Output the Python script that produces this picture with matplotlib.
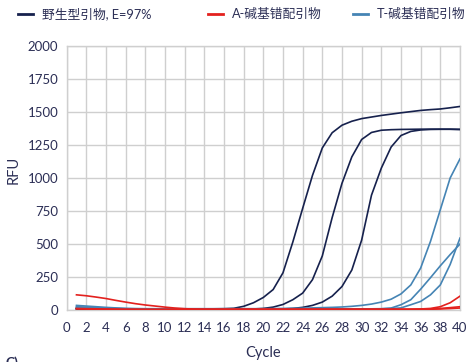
import matplotlib
matplotlib.use("Agg")
import matplotlib.pyplot as plt
from matplotlib.lines import Line2D

plt.rcParams['font.family'] = ['Lato', 'Noto Sans CJK SC', 'DejaVu Sans']

cycles = list(range(1, 41))

# Wild-type primer, three template dilutions
wt_1 = [14, 12, 11, 10, 9, 9, 8, 8, 8, 8, 8, 8, 8, 8, 9, 10,
        13, 28, 55, 95, 155, 282, 515, 770, 1020, 1228, 1343, 1400,
        1430, 1450, 1462, 1474, 1484, 1494, 1503, 1512, 1518, 1523, 1532, 1542]
wt_2 = [10, 9, 8, 7, 6, 6, 6, 5, 5, 5, 5, 5, 5, 5, 5, 5, 5, 6, 8, 12,
        22, 42, 78, 128, 230, 410, 700, 960, 1160, 1292, 1345, 1362,
        1366, 1368, 1369, 1370, 1370, 1370, 1370, 1368]
wt_3 = [8, 7, 6, 5, 5, 4, 4, 4, 4, 4, 4, 4, 4, 4, 4, 4, 4, 4, 4, 5, 6, 8,
        12, 20, 35, 60, 105, 178, 303, 530, 870, 1075, 1235, 1322,
        1353, 1364, 1368, 1369, 1369, 1368]

# A-mismatch primer
a_1 = [115, 108, 98, 87, 73, 60, 48, 38, 30, 22, 15, 10, 7, 6, 6, 6, 6, 6,
       6, 6, 6, 6, 6, 6, 6, 6, 6, 6, 6, 6, 6, 6, 6, 6, 6, 6, 8, 12, 18, 25]
a_2 = [12, 10, 9, 8, 7, 6, 6, 5, 5, 5, 5, 5, 5, 5, 5, 5, 5, 5, 5, 5,
       5, 5, 5, 5, 5, 5, 5, 5, 5, 5, 5, 5, 5, 5, 6, 8, 12, 25, 55, 105]
a_3 = [8, 7, 6, 5, 5, 4, 4, 4, 4, 4, 4, 4, 4, 4, 4, 4, 4, 4, 4, 4,
       4, 4, 4, 4, 4, 4, 4, 4, 4, 4, 4, 4, 4, 4, 4, 5, 6, 8, 11, 15]

# T-mismatch primer
t_1 = [35, 30, 25, 20, 16, 13, 11, 10, 10, 10, 10, 10, 10, 10, 10, 10,
       10, 10, 10, 10, 11, 12, 13, 14, 16, 18, 20, 23, 28, 35, 45, 60,
       82, 122, 190, 318, 520, 760, 1000, 1145]
t_2 = [25, 22, 18, 14, 11, 9, 8, 8, 8, 8, 8, 8, 8, 8, 8, 8, 8, 8, 8, 8,
       8, 8, 8, 8, 8, 8, 8, 8, 8, 9, 9, 10, 15, 40, 78, 158, 245, 335,
       420, 500]
t_3 = [20, 17, 14, 11, 9, 8, 7, 7, 7, 7, 7, 7, 7, 7, 7, 7, 7, 7, 7, 7,
       7, 7, 7, 7, 7, 7, 7, 7, 7, 7, 8, 9, 11, 16, 40, 65, 115, 190,
       345, 545]

legend_labels = ['野生型引物, E=97%', 'A-碱基错配引物', 'T-碱基错配引物']
x_ticks = list(range(0, 41, 2))
y_ticks = [0, 250, 500, 750, 1000, 1250, 1500, 1750, 2000]

navy = '#16214d'
red = '#e3211e'
blue = '#4584b4'
text_col = '#2b2e55'
grid_col = '#cfcfcf'

fig = plt.figure(figsize=(4.70, 3.62), dpi=100)
ax = fig.add_axes([0.1418, 0.1436, 0.8369, 0.7293])

for s in (wt_1, wt_2, wt_3):
    ax.plot(cycles, s, color=navy, lw=1.2, zorder=3)
for s in (t_1, t_2, t_3):
    ax.plot(cycles, s, color=blue, lw=1.2, zorder=4)
for s in (a_1, a_2, a_3):
    ax.plot(cycles, s, color=red, lw=1.2, zorder=5)

ax.set_xlim(0, 40)
ax.set_ylim(0, 2000)
ax.set_xticks(x_ticks)
ax.set_yticks(y_ticks)
ax.grid(True, color=grid_col, lw=1.0, zorder=0)
ax.set_axisbelow(True)
for sp in ax.spines.values():
    sp.set_color(grid_col)
    sp.set_linewidth(1.0)
ax.tick_params(axis='both', length=0, labelsize=9.5, colors=text_col)
ax.tick_params(axis='x', pad=8.5)
ax.tick_params(axis='y', pad=6)

ax.set_xlabel('Cycle', fontsize=10.5, color=text_col)
ax.xaxis.set_label_coords(0.5, -0.135)
ax.set_ylabel('RFU', fontsize=10.5, color=text_col)
ax.yaxis.set_label_coords(-0.117, 0.53)

leg_x = [18, 208, 353]
for h_x, lab, col in zip(leg_x, legend_labels, (navy, red, blue)):
    fig.add_artist(Line2D([h_x / 470, (h_x + 15) / 470], [1 - 14 / 362] * 2,
                          color=col, lw=2.0, transform=fig.transFigure))
    fig.text((h_x + 24) / 470, 1 - 14 / 362, lab, fontsize=9.2,
             color=text_col, va='center', ha='left')

fig.text(5 / 470, 1 - 356 / 362, 'C)', fontsize=10, fontweight='bold',
         color=text_col, va='top', ha='left')

fig.savefig('out.png', dpi=100)
